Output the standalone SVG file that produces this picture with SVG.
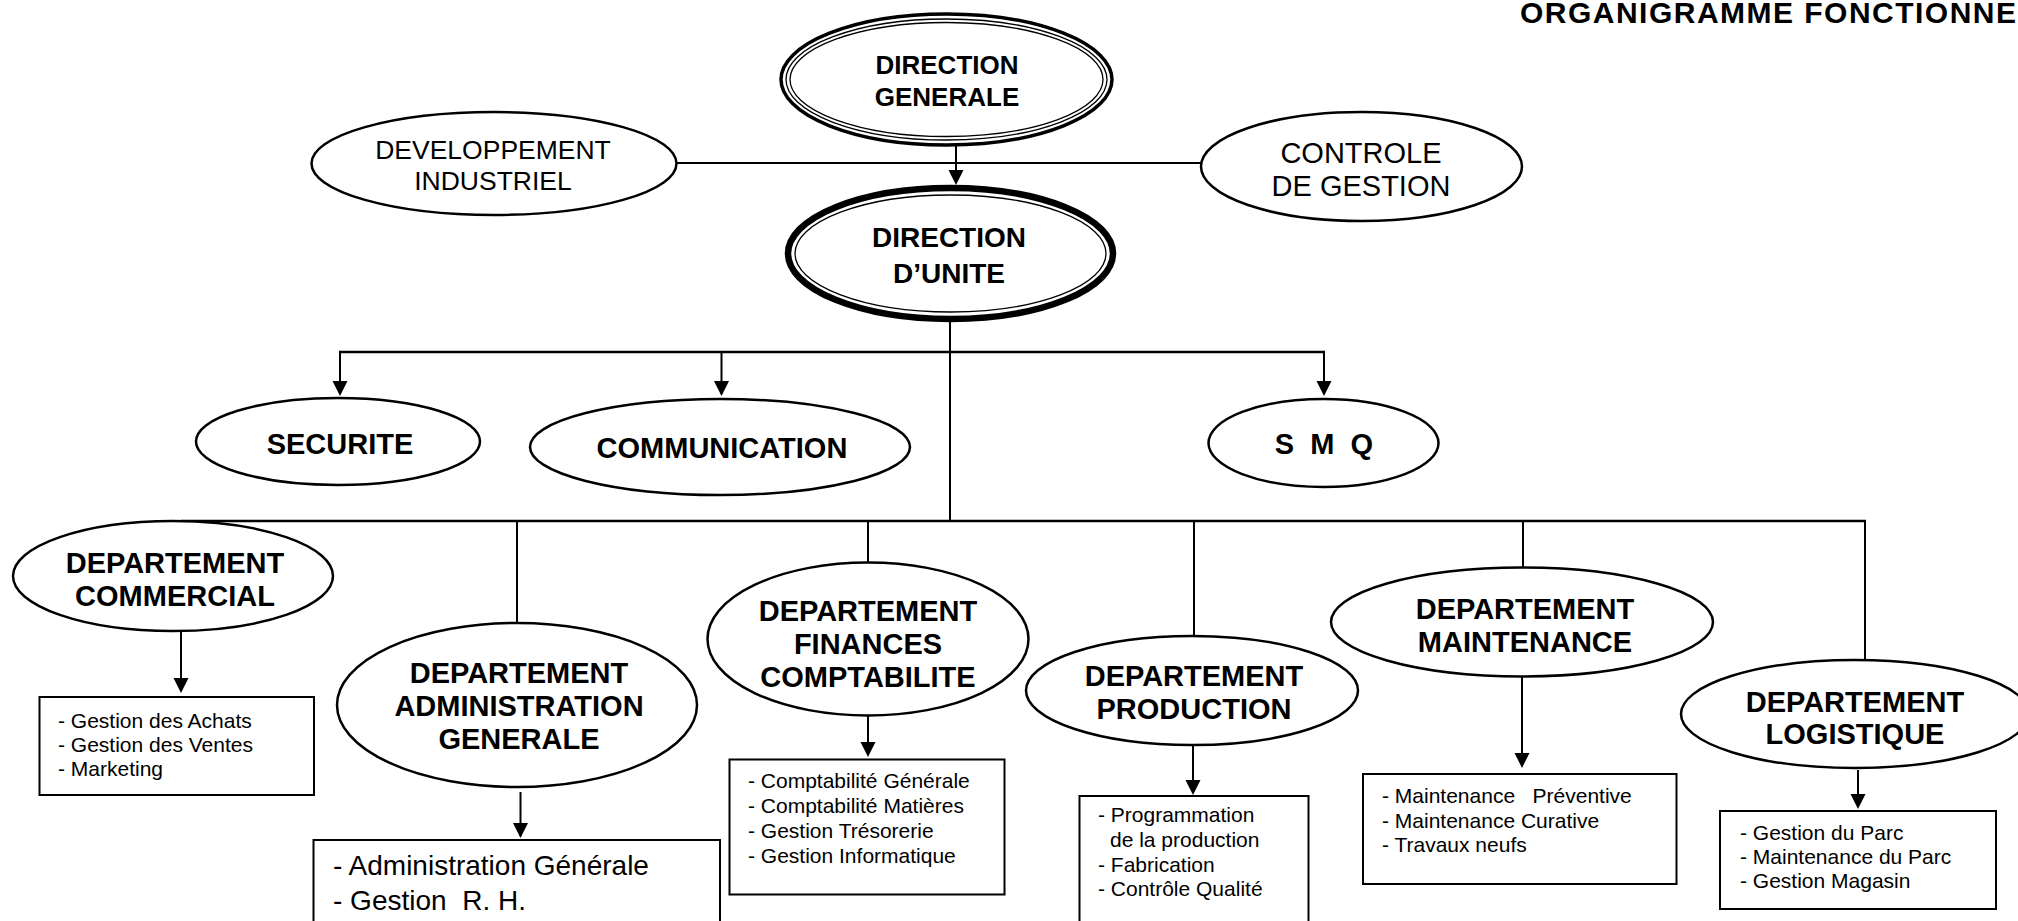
<svg xmlns="http://www.w3.org/2000/svg" width="2018" height="921" viewBox="0 0 2018 921">
<defs>
<marker id="ah" markerUnits="userSpaceOnUse" markerWidth="16" markerHeight="16" refX="13" refY="7.5" orient="auto" viewBox="0 0 16 16"><path d="M0,0 L15,7.5 L0,15 z" fill="#000"/></marker>
</defs>
<style>
text{font-family:"Liberation Sans",Arial,sans-serif;fill:#000}
.hb{font-weight:bold;font-size:29px;text-anchor:middle}
.hr{font-size:29px;text-anchor:middle}
.li{font-size:21px}
.el{fill:#fff;stroke:#000;stroke-width:2.5}
.bx{fill:#fff;stroke:#000;stroke-width:2}
.bus{stroke:#000;stroke-width:2.5;fill:none}
.cn{stroke:#000;stroke-width:2;fill:none}
.ar{stroke:#000;stroke-width:2;fill:none;marker-end:url(#ah)}
</style>
<rect width="2018" height="921" fill="#fff"/>
<text x="1520" y="23" font-weight="bold" font-size="30" textLength="496" lengthAdjust="spacing">ORGANIGRAMME FONCTIONNE</text>

<g id="connectors">
<line class="cn" x1="676" y1="163" x2="1201" y2="163"/>
<line class="ar" x1="956" y1="146" x2="956" y2="183"/>
<line class="cn" x1="950" y1="322" x2="950" y2="521"/>
<line class="bus" x1="339" y1="352" x2="1325" y2="352"/>
<line class="ar" x1="340" y1="352" x2="340" y2="394"/>
<line class="ar" x1="721.5" y1="352" x2="721.5" y2="394"/>
<line class="ar" x1="1324" y1="352" x2="1324" y2="394"/>
<line class="bus" x1="181" y1="521" x2="1866" y2="521"/>
<line class="cn" x1="517" y1="521" x2="517" y2="623"/>
<line class="cn" x1="868" y1="521" x2="868" y2="563"/>
<line class="cn" x1="1194" y1="521" x2="1194" y2="636"/>
<line class="cn" x1="1523" y1="521" x2="1523" y2="567"/>
<line class="cn" x1="1865" y1="521" x2="1865" y2="660"/>
<line class="ar" x1="181" y1="631" x2="181" y2="691"/>
<line class="ar" x1="520.5" y1="792" x2="520.5" y2="836"/>
<line class="ar" x1="868" y1="716" x2="868" y2="755"/>
<line class="ar" x1="1193" y1="745" x2="1193" y2="793"/>
<line class="ar" x1="1522" y1="677" x2="1522" y2="766"/>
<line class="ar" x1="1858" y1="770" x2="1858" y2="807"/>
</g>

<g id="direction-generale">
<ellipse cx="946.5" cy="79.5" rx="165.5" ry="65.5" fill="#fff" stroke="#000" stroke-width="3.5"/>
<ellipse cx="946.5" cy="79.5" rx="160.5" ry="60.5" fill="none" stroke="#000" stroke-width="1.3"/>
<ellipse cx="946.5" cy="79.5" rx="156.5" ry="57" fill="none" stroke="#000" stroke-width="1.3"/>
<text class="hb" x="947" y="74" font-size="26" style="font-size:26px">DIRECTION</text>
<text class="hb" x="947" y="106" style="font-size:26px">GENERALE</text>
</g>

<g id="developpement-industriel">
<ellipse class="el" cx="494" cy="163.5" rx="182.5" ry="51.5"/>
<text class="hr" x="493" y="159" style="font-size:26.5px">DEVELOPPEMENT</text>
<text class="hr" x="493" y="190" style="font-size:26.5px">INDUSTRIEL</text>
</g>

<g id="controle-de-gestion">
<ellipse class="el" cx="1361.5" cy="166.5" rx="160.5" ry="54.5"/>
<text class="hr" x="1361" y="163">CONTROLE</text>
<text class="hr" x="1361" y="196">DE GESTION</text>
</g>

<g id="direction-unite">
<ellipse cx="950.5" cy="253.5" rx="162.5" ry="65.5" fill="#fff" stroke="#000" stroke-width="6.5"/>
<ellipse cx="950.5" cy="253.5" rx="155.5" ry="58.5" fill="none" stroke="#000" stroke-width="1.3"/>
<text class="hb" x="949" y="247" style="font-size:28px">DIRECTION</text>
<text class="hb" x="949" y="283" style="font-size:28px">D’UNITE</text>
</g>

<g id="securite">
<ellipse class="el" cx="338" cy="441.5" rx="142" ry="43.5"/>
<text class="hb" x="340" y="454">SECURITE</text>
</g>

<g id="communication">
<ellipse class="el" cx="720" cy="447" rx="190" ry="48"/>
<text class="hb" x="722" y="458">COMMUNICATION</text>
</g>

<g id="smq">
<ellipse class="el" cx="1323.5" cy="443" rx="115" ry="44"/>
<text class="hb" x="1324" y="454" xml:space="preserve" style="white-space:pre">S  M  Q</text>
</g>

<g id="dept-commercial">
<ellipse class="el" cx="173" cy="576" rx="160" ry="55"/>
<text class="hb" x="175" y="573">DEPARTEMENT</text>
<text class="hb" x="175" y="606">COMMERCIAL</text>
<rect class="bx" x="39.5" y="697" width="274.5" height="98"/>
<text class="li" x="58" y="728">- Gestion des Achats</text>
<text class="li" x="58" y="752">- Gestion des Ventes</text>
<text class="li" x="58" y="776">- Marketing</text>
</g>

<g id="dept-administration">
<ellipse class="el" cx="517" cy="705" rx="180" ry="82"/>
<text class="hb" x="519" y="683">DEPARTEMENT</text>
<text class="hb" x="519" y="716">ADMINISTRATION</text>
<text class="hb" x="519" y="749">GENERALE</text>
<rect class="bx" x="313.5" y="840" width="406.5" height="100"/>
<text x="333" y="875" font-size="28" xml:space="preserve" style="white-space:pre">- Administration Générale</text>
<text x="333" y="910" font-size="28" xml:space="preserve" style="white-space:pre">- Gestion  R. H.</text>
</g>

<g id="dept-finances">
<ellipse class="el" cx="868" cy="639" rx="160.5" ry="76.5"/>
<text class="hb" x="868" y="621">DEPARTEMENT</text>
<text class="hb" x="868" y="654">FINANCES</text>
<text class="hb" x="868" y="687">COMPTABILITE</text>
<rect class="bx" x="729.5" y="759.5" width="275" height="135"/>
<text class="li" x="748" y="788">- Comptabilité Générale</text>
<text class="li" x="748" y="813">- Comptabilité Matières</text>
<text class="li" x="748" y="838">- Gestion Trésorerie</text>
<text class="li" x="748" y="863">- Gestion Informatique</text>
</g>

<g id="dept-production">
<ellipse class="el" cx="1192" cy="690.5" rx="166" ry="54.5"/>
<text class="hb" x="1194" y="686">DEPARTEMENT</text>
<text class="hb" x="1194" y="719">PRODUCTION</text>
<rect class="bx" x="1079.5" y="796" width="229" height="140"/>
<text class="li" x="1098" y="822">- Programmation</text>
<text class="li" x="1110" y="847">de la production</text>
<text class="li" x="1098" y="872">- Fabrication</text>
<text class="li" x="1098" y="896">- Contrôle Qualité</text>
</g>

<g id="dept-maintenance">
<ellipse class="el" cx="1522" cy="622" rx="191" ry="54.5"/>
<text class="hb" x="1525" y="619">DEPARTEMENT</text>
<text class="hb" x="1525" y="652">MAINTENANCE</text>
<rect class="bx" x="1363" y="774" width="313.5" height="110"/>
<text class="li" x="1382" y="803" xml:space="preserve" style="white-space:pre">- Maintenance   Préventive</text>
<text class="li" x="1382" y="828">- Maintenance Curative</text>
<text class="li" x="1382" y="852">- Travaux neufs</text>
</g>

<g id="dept-logistique">
<ellipse class="el" cx="1855" cy="714" rx="174" ry="54"/>
<text class="hb" x="1855" y="712">DEPARTEMENT</text>
<text class="hb" x="1855" y="744">LOGISTIQUE</text>
<rect class="bx" x="1720" y="811" width="276" height="98"/>
<text class="li" x="1740" y="840">- Gestion du Parc</text>
<text class="li" x="1740" y="864">- Maintenance du Parc</text>
<text class="li" x="1740" y="888">- Gestion Magasin</text>
</g>
</svg>
